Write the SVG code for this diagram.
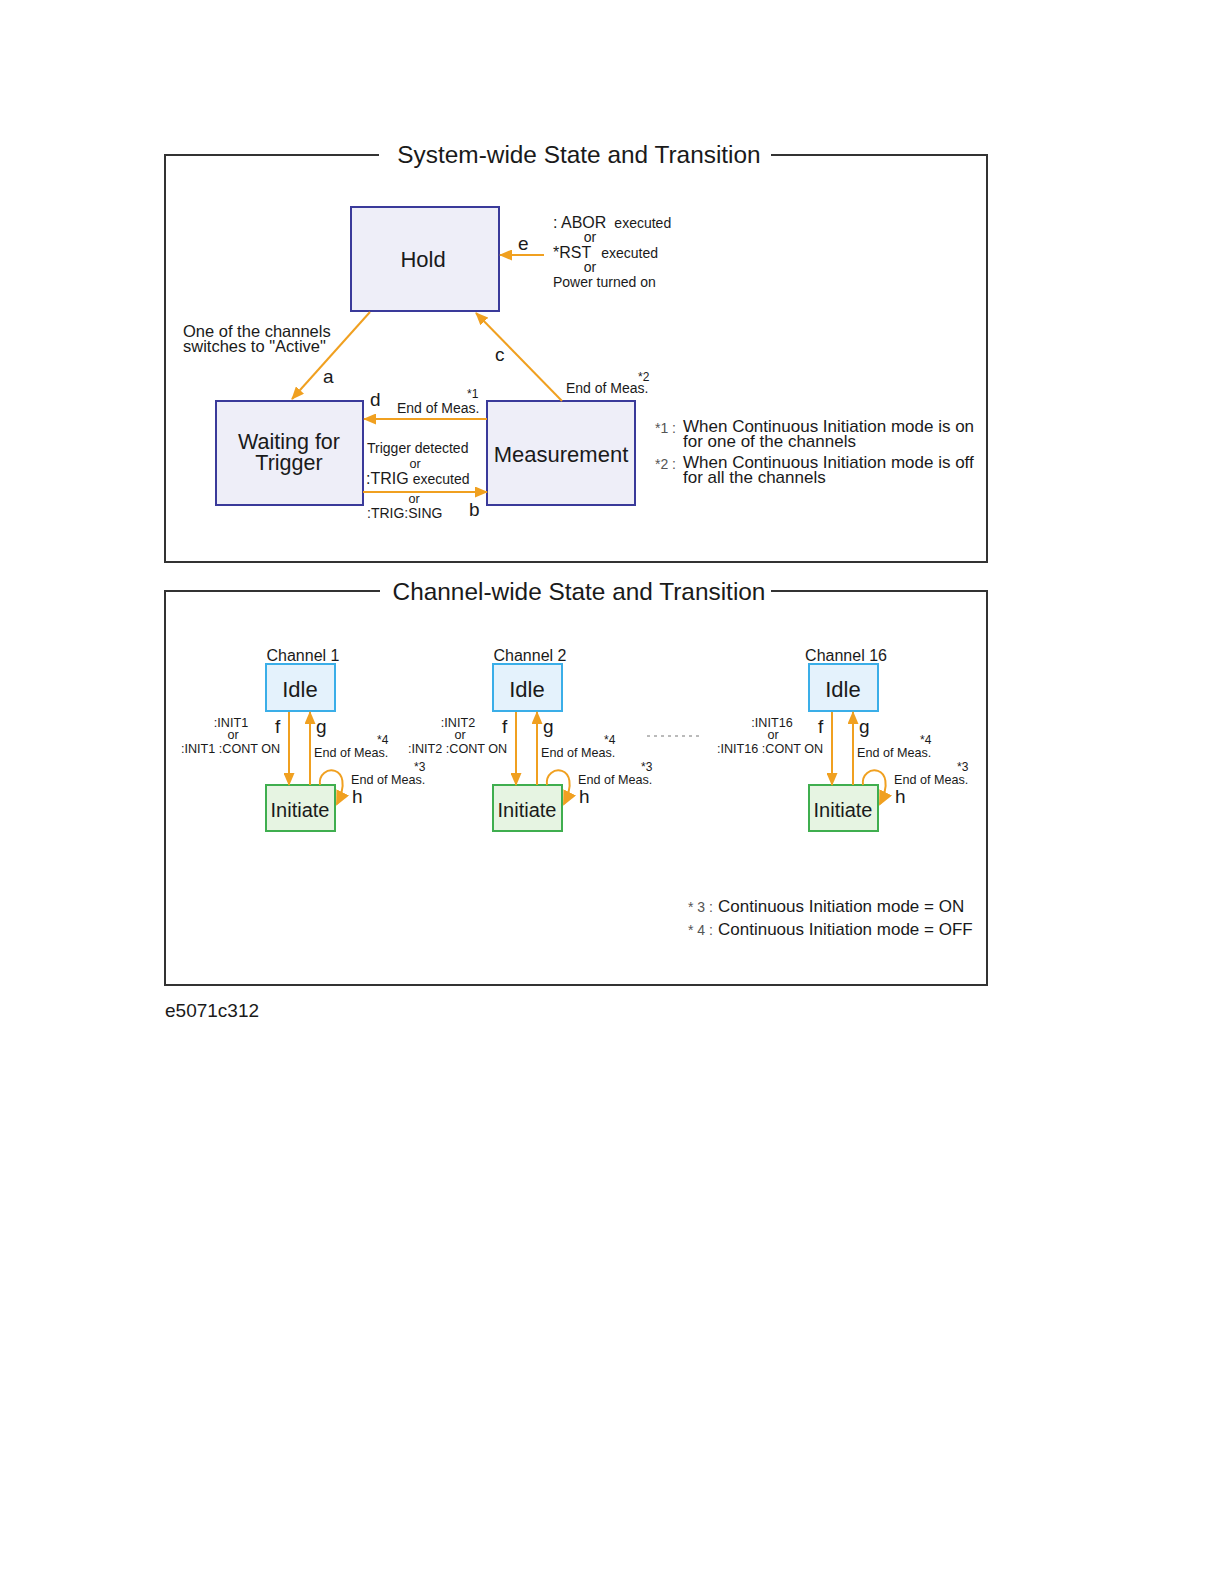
<svg xmlns="http://www.w3.org/2000/svg" width="1224" height="1584" viewBox="0 0 1224 1584">
<style>
text{font-family:"Liberation Sans",Arial,sans-serif;fill:#1a1a1a}
.frame{fill:none;stroke:#333;stroke-width:2}
.sys{fill:#eeeef8;stroke:#3a3a9a;stroke-width:2}
.idle{fill:#e4f2fc;stroke:#3aaee8;stroke-width:2}
.init{fill:#e6f4e2;stroke:#3fae4f;stroke-width:2}
.con{fill:none;stroke:#f0a020;stroke-width:2}
.arr{marker-end:url(#ah)}
.title{font-size:24.4px}
.big{font-size:22px}
.mid{font-size:16px}
.sm{font-size:14px}
.xs{font-size:12.6px}
.tiny{font-size:12px}
.lbl{font-size:19px}
.fn{font-size:17px}
.c{text-anchor:middle}
.gray{fill:#555}
</style>
<defs>
<marker id="ah" markerUnits="userSpaceOnUse" markerWidth="13" markerHeight="11" refX="12" refY="5.5" orient="auto">
<path d="M0,0 L13,5.5 L0,11 z" fill="#f0a020"/>
</marker>
<marker id="ahb" markerUnits="userSpaceOnUse" markerWidth="15" markerHeight="14" refX="13" refY="7" orient="auto">
<path d="M0,0 L15,7 L0,14 z" fill="#f0a020"/>
</marker>
</defs>
<rect width="1224" height="1584" fill="#fff"/>

<!-- Frames -->
<g id="frame-system">
<path class="frame" d="M379,155 H165 V562 H987 V155 H771"/>
<text class="title c" x="579" y="163">System-wide State and Transition</text>
</g>
<g id="frame-channel">
<path class="frame" d="M380,591 H165 V985 H987 V591 H771"/>
<text class="title c" x="579" y="600">Channel-wide State and Transition</text>
</g>

<!-- System nodes -->
<g id="node-hold">
<rect class="sys" x="351" y="207" width="148" height="104"/>
<text class="big c" x="423" y="267">Hold</text>
</g>
<g id="node-waiting">
<rect class="sys" x="216" y="401" width="147" height="104"/>
<text class="big c" x="289" y="449" style="font-size:21.5px">Waiting for</text>
<text class="big c" x="289" y="470" style="font-size:21.5px">Trigger</text>
</g>
<g id="node-measurement">
<rect class="sys" x="487" y="401" width="148" height="104"/>
<text class="big c" x="561" y="462">Measurement</text>
</g>

<!-- Channel nodes -->
<g id="node-ch1-idle">
<text class="mid c" x="303" y="661">Channel 1</text>
<rect class="idle" x="266" y="664" width="69" height="47"/>
<text class="big c" x="300" y="697">Idle</text>
</g>
<g id="node-ch1-initiate">
<rect class="init" x="266" y="785" width="69" height="46"/>
<text class="c" x="300" y="817" style="font-size:20px">Initiate</text>
</g>
<g id="node-ch2-idle">
<text class="mid c" x="530" y="661">Channel 2</text>
<rect class="idle" x="493" y="664" width="69" height="47"/>
<text class="big c" x="527" y="697">Idle</text>
</g>
<g id="node-ch2-initiate">
<rect class="init" x="493" y="785" width="69" height="46"/>
<text class="c" x="527" y="817" style="font-size:20px">Initiate</text>
</g>
<g id="node-ch16-idle">
<text class="mid c" x="846" y="661">Channel 16</text>
<rect class="idle" x="809" y="664" width="69" height="47"/>
<text class="big c" x="843" y="697">Idle</text>
</g>
<g id="node-ch16-initiate">
<rect class="init" x="809" y="785" width="69" height="46"/>
<text class="c" x="843" y="817" style="font-size:20px">Initiate</text>
</g>

<!-- Connectors -->
<g id="connectors">
<line class="con arr" x1="370" y1="312" x2="292" y2="399"/>
<line class="con arr" x1="562" y1="401" x2="476" y2="313"/>
<line class="con arr" x1="544" y1="255" x2="500" y2="255"/>
<line class="con arr" x1="487" y1="419" x2="364" y2="419"/>
<line class="con arr" x1="363" y1="492" x2="487" y2="492"/>

<g id="ch1-conn">
<line class="con arr" x1="289" y1="712" x2="289" y2="785"/>
<line class="con arr" x1="310" y1="785" x2="310" y2="712"/>
<path class="con" style="marker-end:url(#ahb)" d="M320,785 C317,763 357,763 337,804"/>
</g>
<g id="ch2-conn" transform="translate(227,0)">
<line class="con arr" x1="289" y1="712" x2="289" y2="785"/>
<line class="con arr" x1="310" y1="785" x2="310" y2="712"/>
<path class="con" style="marker-end:url(#ahb)" d="M320,785 C317,763 357,763 337,804"/>
</g>
<g id="ch16-conn" transform="translate(543,0)">
<line class="con arr" x1="289" y1="712" x2="289" y2="785"/>
<line class="con arr" x1="310" y1="785" x2="310" y2="712"/>
<path class="con" style="marker-end:url(#ahb)" d="M320,785 C317,763 357,763 337,804"/>
</g>
<line x1="647" y1="736" x2="702" y2="736" stroke="#777" stroke-width="1" stroke-dasharray="3,4"/>
</g>

<!-- System labels -->
<g id="labels-system">
<text class="lbl" x="323" y="383">a</text>
<text class="mid" x="183" y="337" style="font-size:16.5px">One of the channels</text>
<text class="mid" x="183" y="352" style="font-size:16.5px">switches to "Active"</text>
<text class="lbl" x="495" y="361">c</text>
<text class="lbl" x="518" y="250">e</text>
<text x="553" y="228"><tspan class="mid">: ABOR</tspan><tspan class="sm" dx="8">executed</tspan></text>
<text class="sm c" x="590" y="242">or</text>
<text x="553" y="258"><tspan class="mid">*RST</tspan><tspan class="sm" dx="10">executed</tspan></text>
<text class="sm c" x="590" y="272">or</text>
<text class="sm" x="553" y="287">Power turned on</text>
<text class="sm" x="566" y="393">End of Meas.</text>
<text class="tiny" x="638" y="381">*2</text>
<text class="lbl" x="370" y="406">d</text>
<text class="sm" x="397" y="413">End of Meas.</text>
<text class="tiny" x="467" y="398">*1</text>
<text class="sm" x="367" y="453">Trigger detected</text>
<text class="xs c" x="415" y="468">or</text>
<text x="366" y="484"><tspan class="mid">:TRIG</tspan><tspan class="sm" dx="4">executed</tspan></text>
<text class="xs c" x="414" y="503">or</text>
<text class="sm" x="367" y="518">:TRIG:SING</text>
<text class="lbl" x="469" y="516">b</text>
<text class="sm gray" x="655" y="433">*1 :</text>
<text class="fn" x="683" y="432">When Continuous Initiation mode is on</text>
<text class="fn" x="683" y="447">for one of the channels</text>
<text class="sm gray" x="655" y="469">*2 :</text>
<text class="fn" x="683" y="468">When Continuous Initiation mode is off</text>
<text class="fn" x="683" y="483">for all the channels</text>
</g>

<!-- Channel labels -->
<g id="labels-ch1">
<text class="xs c" x="231" y="727">:INIT1</text>
<text class="xs c" x="233" y="739">or</text>
<text class="xs" x="181" y="753">:INIT1 :CONT ON</text>
<text class="lbl" x="275" y="733">f</text>
<text class="lbl" x="316" y="733">g</text>
<text class="xs" x="314" y="757">End of Meas.</text>
<text class="tiny" x="377" y="744">*4</text>
<text class="xs" x="351" y="784">End of Meas.</text>
<text class="tiny" x="414" y="771">*3</text>
<text class="lbl" x="352" y="803">h</text>
</g>
<g id="labels-ch2" transform="translate(227,0)">
<text class="xs c" x="231" y="727">:INIT2</text>
<text class="xs c" x="233" y="739">or</text>
<text class="xs" x="181" y="753">:INIT2 :CONT ON</text>
<text class="lbl" x="275" y="733">f</text>
<text class="lbl" x="316" y="733">g</text>
<text class="xs" x="314" y="757">End of Meas.</text>
<text class="tiny" x="377" y="744">*4</text>
<text class="xs" x="351" y="784">End of Meas.</text>
<text class="tiny" x="414" y="771">*3</text>
<text class="lbl" x="352" y="803">h</text>
</g>
<g id="labels-ch16" transform="translate(543,0)">
<text class="xs c" x="229" y="727">:INIT16</text>
<text class="xs c" x="230" y="739">or</text>
<text class="xs" x="174" y="753">:INIT16 :CONT ON</text>
<text class="lbl" x="275" y="733">f</text>
<text class="lbl" x="316" y="733">g</text>
<text class="xs" x="314" y="757">End of Meas.</text>
<text class="tiny" x="377" y="744">*4</text>
<text class="xs" x="351" y="784">End of Meas.</text>
<text class="tiny" x="414" y="771">*3</text>
<text class="lbl" x="352" y="803">h</text>
</g>
<g id="footnotes-channel">
<text class="sm gray" x="688" y="912">* 3 :</text>
<text class="fn" x="718" y="912">Continuous Initiation mode = ON</text>
<text class="sm gray" x="688" y="935">* 4 :</text>
<text class="fn" x="718" y="935">Continuous Initiation mode = OFF</text>
</g>
<text style="font-size:19px" x="165" y="1017">e5071c312</text>
</svg>
